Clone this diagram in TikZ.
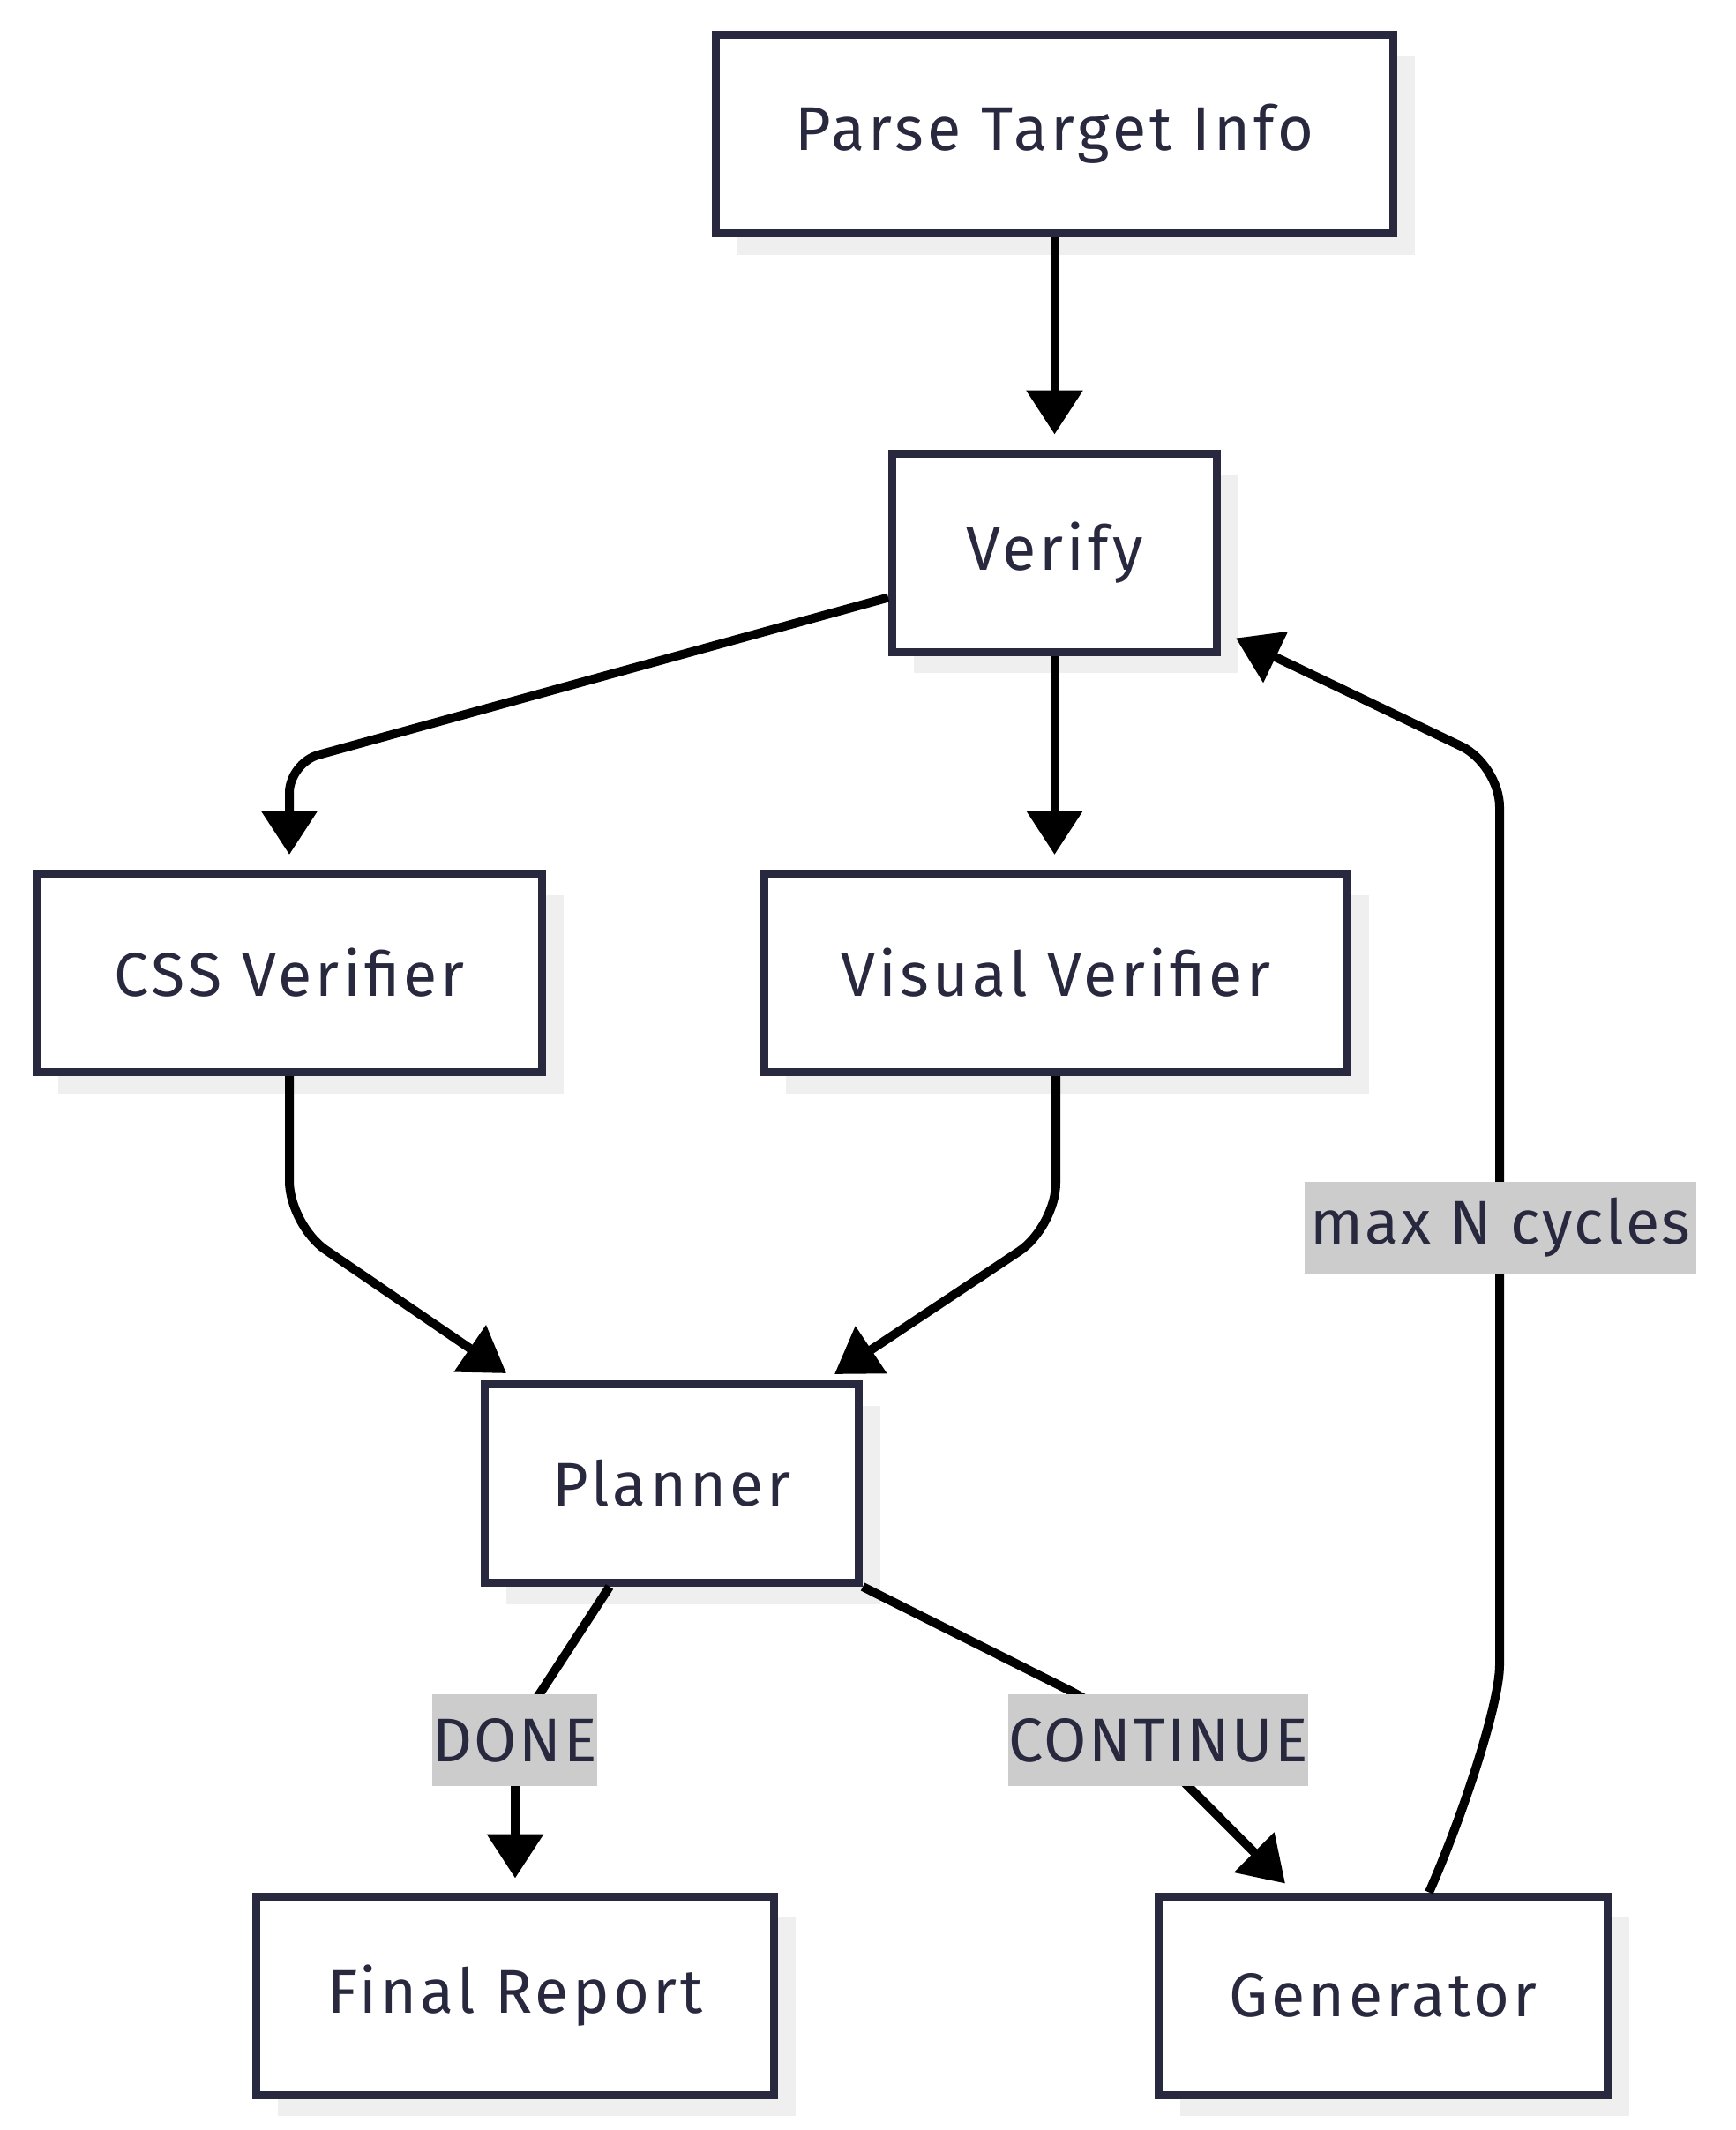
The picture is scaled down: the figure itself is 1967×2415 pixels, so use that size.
\documentclass[tikz,border=0pt]{standalone}
\usepackage{fontspec}
\setmainfont{Fira Sans}
\newfontfamily\boxfont{Fira Sans}[LetterSpace=6]
\newfontfamily\lblfont{Fira Sans}[LetterSpace=3.5]
\usetikzlibrary{arrows.meta,shadows,calc}
\definecolor{boxc}{HTML}{28283E}
\definecolor{txtc}{HTML}{28283E}
\definecolor{shadowc}{HTML}{EFEFEF}
\definecolor{lblc}{HTML}{CCCCCC}
\begin{document}
\begin{tikzpicture}[x=0.5pt,y=-0.5pt,
  box/.style={draw=boxc, line width=4.5pt, fill=white, text=txtc, inner sep=0pt,
    minimum height=112.5pt, font=\boxfont\fontsize{35}{42}\selectfont,
    drop shadow={shadow xshift=12pt, shadow yshift=-12pt, fill=shadowc, opacity=1}},
  conn/.style={draw=black, line width=5pt, -{Triangle[length=25pt,width=31pt]}},
  lbl/.style={fill=lblc, text=txtc, inner xsep=0pt, inner ysep=0pt,
    minimum height=52pt, font=\lblfont\fontsize{35}{42}\selectfont}
]
\fill[white] (0,0) rectangle (1967,2415);
\useasboundingbox (0,0) rectangle (1967,2415);

\node[box, minimum width=384pt]   (parse)     at (1195.5,152)  {Parse Target Info};
\node[box, minimum width=184pt]   (verify)    at (1195.5,626.5) {Verify};
\node[box, minimum width=286.5pt] (css)       at (328,1103)    {CSS Verifier};
\node[box, minimum width=330.5pt] (visual)    at (1197,1103)   {Visual Verifier};
\node[box, minimum width=212pt]   (planner)   at (761.5,1682)  {Planner};
\node[box, minimum width=293.5pt] (final)     at (584,2262.5)  {Final Report};
\node[box, minimum width=254.5pt] (generator) at (1568,2262.5) {Generator};

\coordinate (k1) at (328,865);
\coordinate (k2) at (328,1389);
\coordinate (k3) at (1197,1391);
\coordinate (k4) at (584,1963);
\coordinate (k5) at (1265,1943);
\coordinate (k6) at (1700,867);

\draw[conn, shorten >=8.5pt] (parse.south) -- (verify.north);
\draw[conn, shorten >=8.5pt] (verify.south) -- (verify.south |- visual.north);
\draw[conn, shorten >=8.5pt, rounded corners=17pt] ([yshift=-25.5pt]verify.west) -- (k1) -- (css.north);
\draw[conn, rounded corners=25pt] (css.south) -- (k2) -- ($(planner.north west)+(29,-8)$);
\draw[conn, rounded corners=25pt] (visual.south) -- (k3) -- ($(planner.north east)+(-32,-7)$);
\draw[conn, shorten >=8pt, rounded corners=20pt] ($(planner.south)+(-70.5,0)$) -- (k4) -- (final.north);
\draw[conn, rounded corners=30pt] (planner.south east) -- (k5) -- ($(generator.north west)+(148,-10)$);
\draw[conn, rounded corners=24pt] ($(generator.north)+(52,0)$) .. controls (1660,2055) and (1700,1930) .. (1700,1840) -- (k6) -- ($(verify.south east)+(17,-20)$);

\node[lbl, minimum width=87.5pt] (ldone) at (583.5,1973) {DONE};
\node[lbl, minimum width=167pt]  (lcont) at (1313,1973)  {CONTINUE};
\node[lbl, minimum width=222pt]  (lmax)  at (1701,1392)  {max N cycles};
\end{tikzpicture}
\end{document}
